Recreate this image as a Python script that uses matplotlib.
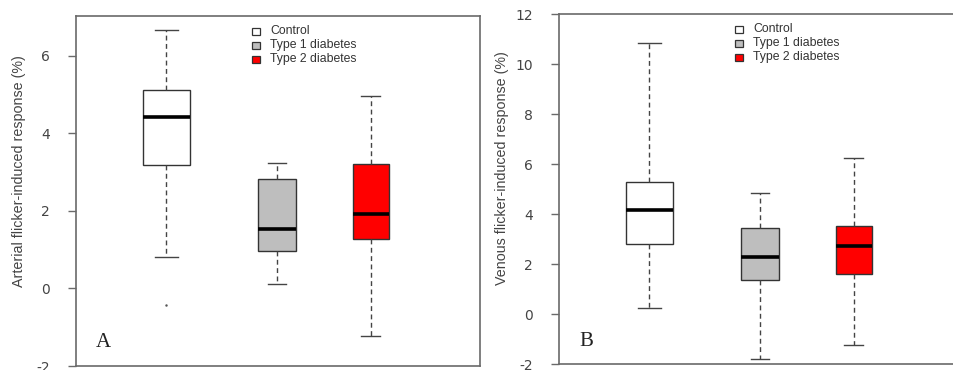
import matplotlib
matplotlib.use("Agg")
import matplotlib.pyplot as plt
from matplotlib.patches import Rectangle

# ---- data ----
groups = ["Control", "Type 1 diabetes", "Type 2 diabetes"]
colors = ["#FFFFFF", "#BEBEBE", "#FF0000"]

# Panel A: arterial
art_whislo = [0.82, 0.12, -1.22]
art_q1 = [3.18, 0.97, 1.27]
art_med = [4.42, 1.53, 1.93]
art_q3 = [5.12, 2.82, 3.20]
art_whishi = [6.68, 3.24, 4.96]
art_fliers = [[-0.43], [], []]

# Panel B: venous
ven_whislo = [0.25, -1.79, -1.23]
ven_q1 = [2.80, 1.36, 1.63]
ven_med = [4.17, 2.29, 2.73]
ven_q3 = [5.28, 3.45, 3.52]
ven_whishi = [10.85, 4.87, 6.24]
ven_fliers = [[], [], []]

art_ticks = [-2, 0, 2, 4, 6]
ven_ticks = [-2, 0, 2, 4, 6, 8, 10, 12]

# ---- layout ----
W, H = 954, 370
positions = [0.224, 0.4975, 0.730]
widths = [0.114, 0.094, 0.089]
capwidths = [0.059, 0.045, 0.047]
AX_W = 404

fig = plt.figure(figsize=(W / 100, H / 100), dpi=100)
ax1 = fig.add_axes([76 / W, (H - 366) / H, AX_W / W, 350 / H])
ax2 = fig.add_axes([559 / W, (H - 364.3) / H, AX_W / W, 350 / H])

plt.rcParams['font.family'] = ['Liberation Sans', 'DejaVu Sans']
axis_col = "#6a6a6a"
text_col = "#444444"


def draw(ax, whislo, q1, med, q3, whishi, fliers, ylim, ticks, ylabel, letter, lab_y):
    stats = []
    for i, g in enumerate(groups):
        stats.append(dict(med=med[i], q1=q1[i], q3=q3[i], whislo=whislo[i],
                          whishi=whishi[i], fliers=fliers[i], label=g))
    bp = ax.bxp(stats, positions=positions, widths=widths, capwidths=capwidths,
                patch_artist=True, showfliers=True,
                boxprops=dict(edgecolor="#333333", linewidth=1.0),
                whiskerprops=dict(color="#444444", linestyle=(0, (3.5, 2.5)), linewidth=1.0),
                capprops=dict(color="#444444", linewidth=1.0),
                medianprops=dict(color="black", linewidth=2.6),
                flierprops=dict(marker='.', markersize=1.5, markerfacecolor="#555555",
                                markeredgecolor="#555555"))
    for patch, c in zip(bp['boxes'], colors):
        patch.set_facecolor(c)
    ax.set_xlim(0, 1)
    ax.set_ylim(*ylim)
    ax.set_xticks([])
    ax.set_yticks(ticks)
    ax.set_yticklabels([str(t) for t in ticks])
    ax.tick_params(axis='y', direction='out', length=5.8, width=1.0, color=axis_col,
                   pad=13, labelsize=10, labelcolor=text_col)
    for s in ax.spines.values():
        s.set_color(axis_col)
        s.set_linewidth(1.2)
    ax.text(-0.141, lab_y, ylabel, transform=ax.transAxes, rotation=90,
            ha='center', va='center', fontsize=10.3, color=text_col)
    ax.text(0.068, 0.066, letter, transform=ax.transAxes, ha='center', va='center',
            fontsize=15, family='Liberation Serif', color="#222222")
    # legend
    rows = [0.957, 0.917, 0.877]
    sq_w, sq_h = 8 / AX_W, 7 / 350
    for r, g, c in zip(rows, groups, colors):
        ax.add_patch(Rectangle((0.446 - sq_w / 2, r - sq_h / 2), sq_w, sq_h,
                               transform=ax.transAxes, facecolor=c,
                               edgecolor="#333333", linewidth=0.9, clip_on=False))
        ax.text(0.481, r, g, transform=ax.transAxes, ha='left', va='center',
                fontsize=8.8, color="#333333")


draw(ax1, art_whislo, art_q1, art_med, art_q3, art_whishi, art_fliers,
     (-2, 7.03), art_ticks, "Arterial flicker-induced response (%)", "A", 0.557)
draw(ax2, ven_whislo, ven_q1, ven_med, ven_q3, ven_whishi, ven_fliers,
     (-2, 12), ven_ticks, "Venous flicker-induced response (%)", "B", 0.562)

fig.savefig("out.png", dpi=100)
